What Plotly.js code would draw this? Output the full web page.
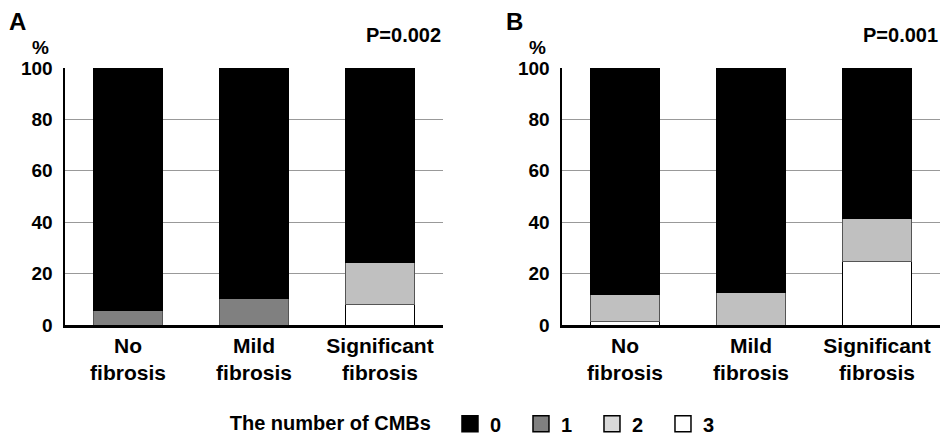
<!DOCTYPE html>
<html>
<head>
<meta charset="utf-8">
<script src="https://cdn.plot.ly/plotly-3.0.1.min.js"></script>
<style>html,body{margin:0;padding:0;background:#fff;}#chart{width:946px;height:436px;}</style>
</head>
<body>
<div id="chart"></div>
<script>
const categories = ["No<br>fibrosis", "Mild<br>fibrosis", "Significant<br>fibrosis"];
const cmbLabels = ["0", "1", "2", "3"];
// Panel A (% of patients by number of CMBs)
const A_cmb0 = [94.4, 89.5, 75.5];
const A_cmb1 = [5.6, 10.5, 0];
const A_cmb2 = [0, 0, 16.7];
const A_cmb3 = [0, 0, 7.8];
// Panel B
const B_cmb0 = [88.0, 87.3, 58.5];
const B_cmb1 = [0, 0, 0];
const B_cmb2 = [10.8, 12.7, 16.7];
const B_cmb3 = [1.2, 0, 24.8];
const pValues = ["P=0.002", "P=0.001"];
const panelLetters = ["A", "B"];

const fills = {"0": "#000000", "1": "#808080", "2": "#c0c0c0", "3": "#ffffff"};
const legendFills = {"0": "#000000", "1": "#808080", "2": "#d9d9d9", "3": "#ffffff"};
const edges = {"0": "#000000", "1": "#555555", "2": "#555555", "3": "#000000"};

const FONT = "Liberation Sans, Arial, sans-serif";

function makeTraces(vals, xa, ya) {
  const order = ["3", "2", "1", "0"];
  return order.map(k => ({
    type: "bar",
    x: categories,
    y: vals[k],
    xaxis: xa, yaxis: ya,
    name: k,
    legendgroup: k,
    showlegend: false,
    width: 0.555,
    marker: {color: fills[k], line: {color: edges[k], width: 1}},
    hoverinfo: "y"
  }));
}

const tracesA = makeTraces({"0": A_cmb0, "1": A_cmb1, "2": A_cmb2, "3": A_cmb3}, "x", "y");
const tracesB = makeTraces({"0": B_cmb0, "1": B_cmb1, "2": B_cmb2, "3": B_cmb3}, "x2", "y2");

// legend-only traces
const legendTraces = cmbLabels.map(k => ({
  type: "scatter", mode: "markers", x: [null], y: [null], name: k, legendgroup: k, showlegend: true,
  marker: {symbol: "square", size: 16, color: legendFills[k], line: {color: "#000", width: 1.5}},
  xaxis: "x", yaxis: "y"
}));

const yaxisBase = {
  range: [0, 100], tickvals: [0, 20, 40, 60, 80, 100], showgrid: true,
  gridcolor: "#999999", gridwidth: 1, showline: true, linecolor: "#000", linewidth: 2.5,
  ticks: "", ticklabelstandoff: 6, zeroline: false, fixedrange: true, automargin: false,
  tickfont: {family: FONT, size: 19, color: "#000", weight: "bold"}
};
const xaxisBase = {
  type: "category", categoryarray: categories, categoryorder: "array",
  range: [-0.5, 2.5], showline: true, linecolor: "#000", linewidth: 2.5, ticks: "",
  showgrid: false, zeroline: false, fixedrange: true, ticklabelstandoff: 0, automargin: false,
  tickfont: {family: FONT, size: 21, color: "#000", weight: "bold"}
};

const annotations = [];
[0, 1].forEach(i => {
  const left = i === 0 ? 0 : 0.568;
  const right = i === 0 ? 0.432 : 1.0;
  annotations.push({xref: "paper", yref: "paper", x: right, y: 1.13, xanchor: "right", yanchor: "middle",
    text: pValues[i], showarrow: false, font: {family: FONT, size: 20, color: "#000", weight: "bold"}});
  annotations.push({xref: "paper", yref: "paper", x: left - 0.066, y: 1.18, xanchor: "left", yanchor: "middle",
    text: panelLetters[i], showarrow: false, font: {family: FONT, size: 24, color: "#000", weight: "bold"}});
  annotations.push({xref: "paper", yref: "paper", x: left - 0.028, y: 1.08, xanchor: "center", yanchor: "middle",
    text: "%", showarrow: false, font: {family: FONT, size: 19, color: "#000", weight: "bold"}});
});

const layout = {
  width: 946, height: 436,
  margin: {l: 65, r: 6, t: 68, b: 111, autoexpand: false},
  paper_bgcolor: "#fff", plot_bgcolor: "#fff",
  barmode: "stack",
  showlegend: true,
  legend: {
    orientation: "h", x: 0.186, xanchor: "left",
    yref: "container", y: 0.028, yanchor: "middle",
    traceorder: "normal",
    title: {text: "The number of CMBs  ", side: "left", font: {family: FONT, size: 20, color: "#000", weight: "bold"}},
    font: {family: FONT, size: 20, color: "#000", weight: "bold"},
    entrywidth: 26, entrywidthmode: "pixels",
    itemclick: false, itemdoubleclick: false
  },
  xaxis: Object.assign({}, xaxisBase, {domain: [0, 0.432], anchor: "y"}),
  yaxis: Object.assign({}, yaxisBase, {domain: [0, 1], anchor: "x"}),
  xaxis2: Object.assign({}, xaxisBase, {domain: [0.568, 1], anchor: "y2"}),
  yaxis2: Object.assign({}, yaxisBase, {domain: [0, 1], anchor: "x2"}),
  annotations: annotations
};

Plotly.newPlot("chart", legendTraces.concat(tracesA, tracesB), layout, {displayModeBar: false, staticPlot: true});
</script>
</body>
</html>
